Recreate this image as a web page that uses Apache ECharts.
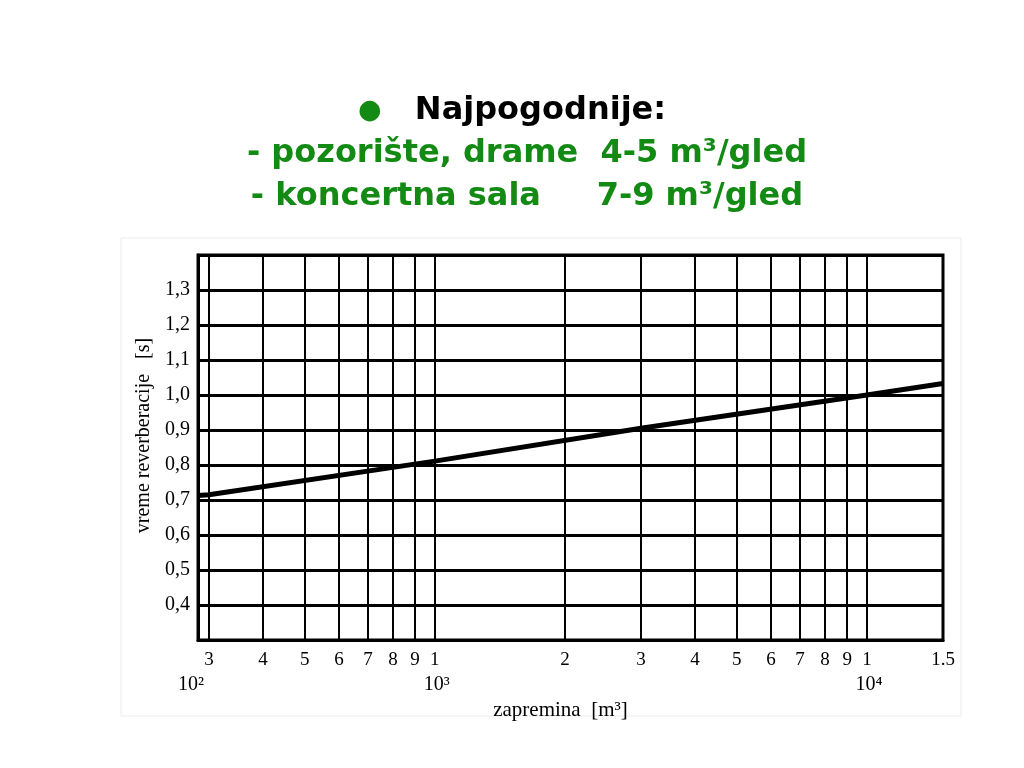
<!DOCTYPE html>
<html>
<head>
<meta charset="utf-8">
<script src="https://cdn.jsdelivr.net/npm/echarts@6/dist/echarts.min.js"></script>
<style>
html,body{margin:0;padding:0;background:#fff;}
#chart{width:1024px;height:768px;}
</style>
</head>
<body>
<div id="chart"></div>
<script>
// x-axis grid/tick values (m3) and their printed labels
const volumeTicks = [300,400,500,600,700,800,900,1000,2000,3000,4000,5000,6000,7000,8000,9000,10000,15000];
const volumeTickLabels = ['3','4','5','6','7','8','9','1','2','3','4','5','6','7','8','9','1','1.5'];
const decadeAt = [300, 1000, 10000];
const decadeText = ['10²', '10³', '10⁴'];
// curve: volume (m3) -> reverberation time (s)
const curveVolume = [283, 300, 1000, 3000, 10000, 15000];
const curveTime = [0.713, 0.715, 0.811, 0.905, 1.0, 1.033];

const serif = '"Liberation Serif", "Times New Roman", serif';
const green = '#138a13';

const chart = echarts.init(document.getElementById('chart'));

function findIdx(arr, v) {
  for (let i = 0; i < arr.length; i++) {
    if (Math.abs(arr[i] - v) < 1e-6 * arr[i]) return i;
  }
  return -1;
}

chart.setOption({
  animation: false,
  backgroundColor: '#ffffff',
  title: {
    left: 'center',
    top: 89,
    padding: 0,
    text: '{dot|●}   {blk|Najpogodnije:}\n{grn|- pozorište, drame  4-5 m³/gled}\n{grn|- koncertna sala     7-9 m³/gled}',
    textStyle: {
      fontFamily: '"DejaVu Sans", sans-serif',
      fontWeight: 'bold',
      fontSize: 32,
      lineHeight: 43,
      rich: {
        dot: { color: green, fontSize: 27, fontFamily: '"DejaVu Sans", sans-serif', lineHeight: 43 },
        blk: { color: '#000', fontSize: 32, fontWeight: 'bold', fontFamily: '"DejaVu Sans", sans-serif', lineHeight: 43 },
        grn: { color: green, fontSize: 32, fontWeight: 'bold', fontFamily: '"DejaVu Sans", sans-serif', lineHeight: 43, padding: [0, 0, 0, 30] }
      }
    }
  },
  graphic: [{
    type: 'rect',
    shape: { x: 121, y: 238, width: 840, height: 478 },
    style: { fill: 'none', stroke: '#ececec', lineWidth: 1 },
    silent: true,
    z: -10
  }],
  grid: {
    left: 198, right: 81, top: 255, bottom: 128,
    show: true, borderColor: '#000', borderWidth: 3, backgroundColor: 'transparent'
  },
  xAxis: {
    type: 'log',
    logBase: 10,
    min: curveVolume[0],
    max: 15000,
    name: 'zapremina  [m³]',
    nameLocation: 'middle',
    nameGap: 48,
    nameTextStyle: { fontFamily: serif, fontSize: 21, color: '#000', padding: [0, 20, 0, 0] },
    axisLine: { show: true, lineStyle: { color: '#000', width: 3 } },
    axisTick: { show: false, customValues: volumeTicks },
    splitLine: { show: true, lineStyle: { color: '#000', width: 2 } },
    minorTick: { show: false },
    minorSplitLine: { show: false },
    axisLabel: {
      customValues: volumeTicks,
      margin: 9,
      hideOverlap: false,
      showMinLabel: true,
      showMaxLabel: true,
      fontFamily: serif,
      fontSize: 19,
      color: '#000',
      formatter: function (v) {
        const i = findIdx(volumeTicks, v);
        if (i < 0) return '';
        const d = findIdx(decadeAt, v);
        let s = '{t|' + volumeTickLabels[i] + '}';
        if (d === 0) s += '\n{dl|' + decadeText[d] + '}';
        else if (d > 0) s += '\n{d|' + decadeText[d] + '}';
        return s;
      },
      rich: {
        t: { fontFamily: serif, fontSize: 19, color: '#000', lineHeight: 22 },
        d: { fontFamily: serif, fontSize: 20, color: '#000', lineHeight: 28, padding: [0, 0, 0, 4] },
        dl: { fontFamily: serif, fontSize: 20, color: '#000', lineHeight: 28, padding: [0, 36, 0, 0] }
      }
    }
  },
  yAxis: {
    type: 'value',
    min: 0.3,
    max: 1.4,
    interval: 0.1,
    name: 'vreme reverberacije   [s]',
    nameLocation: 'middle',
    nameGap: 43,
    nameTextStyle: { fontFamily: serif, fontSize: 20, color: '#000', padding: [0, 0, 0, 24] },
    axisLine: { show: true, lineStyle: { color: '#000', width: 3 } },
    axisTick: { show: false },
    splitLine: { show: true, lineStyle: { color: '#000', width: 2.8 } },
    axisLabel: {
      showMinLabel: false,
      showMaxLabel: false,
      margin: 8,
      fontFamily: serif,
      fontSize: 20,
      color: '#000',
      formatter: function (v) { return v.toFixed(1).replace('.', ','); }
    }
  },
  series: [{
    type: 'line',
    data: curveVolume.map((x, i) => [x, curveTime[i]]),
    symbol: 'none',
    lineStyle: { color: '#000', width: 5 },
    z: 5
  }]
});
</script>
</body>
</html>
